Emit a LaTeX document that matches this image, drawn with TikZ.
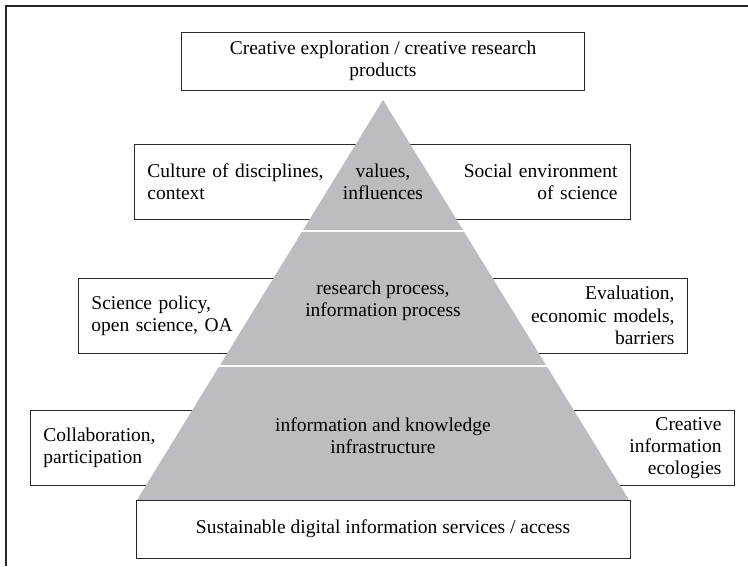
\documentclass[tikz,border=0pt]{standalone}
\usepackage{fontspec}
\setmainfont{Liberation Serif}
\usetikzlibrary{calc}
\definecolor{pyrgray}{RGB}{188,189,192}
\definecolor{boxline}{RGB}{40,40,40}
\tikzset{
  sidebox/.style={draw=boxline, fill=white, line width=0.9pt, minimum height=75pt,
    inner xsep=13pt, inner ysep=3pt},
  endbox/.style={draw=boxline, fill=white, line width=0.9pt, minimum height=58pt, align=center},
  pyrlabel/.style={align=center},
  levelline/.style={white, line width=2pt},
}
\begin{document}
\begin{tikzpicture}[x=1pt,y=-1pt,font=\fontsize{19.5}{22.3}\selectfont]
\useasboundingbox (0,0) rectangle (748,566);
\draw[boxline, line width=1.3pt] (6,566) -- (6,6) -- (748,6);
% side boxes, they run in under the pyramid
\node[sidebox, anchor=west, text width=223pt, align=left] (culture) at (134,181.5) {Culture of disciplines,\\context};
\node[sidebox, anchor=east, text width=223pt, align=right] (social) at (631,181.5) {Social environment\\of science};
\node[sidebox, anchor=west, text width=279pt, align=left] (policy) at (78,315.5) {Science policy,\\open science, OA};
\node[sidebox, anchor=east, text width=279pt, align=right] (evaluation) at (688,315.5) {Evaluation,\\economic models,\\barriers};
\node[sidebox, anchor=west, text width=327pt, align=left] (collab) at (30,448) {Collaboration,\\participation};
\node[sidebox, anchor=east, text width=326pt, align=right] (ecology) at (735,448) {Creative\\information\\ecologies};
% pyramid
\coordinate (apex) at (383,100);
\coordinate (bl) at (137,500);
\coordinate (br) at (629,500);
\fill[pyrgray] (apex) -- (bl) -- (br) -- cycle;
\draw[levelline] ($(apex)!0.3275!(bl)$) -- ($(apex)!0.3275!(br)$);
\draw[levelline] ($(apex)!0.665!(bl)$) -- ($(apex)!0.665!(br)$);
\node[pyrlabel] (values) at (383,182) {values,\\influences};
\node[pyrlabel] (process) at (383,301) {research process,\\information process};
\node[pyrlabel] (infra) at (383,436) {information and knowledge\\infrastructure};
% top and bottom
\node[endbox, minimum width=403pt] (explore) at (383,61) {Creative exploration / creative research\\products};
\node[endbox, minimum width=494pt] (access) at (383,529) {Sustainable digital information services / access};
\end{tikzpicture}
\end{document}
